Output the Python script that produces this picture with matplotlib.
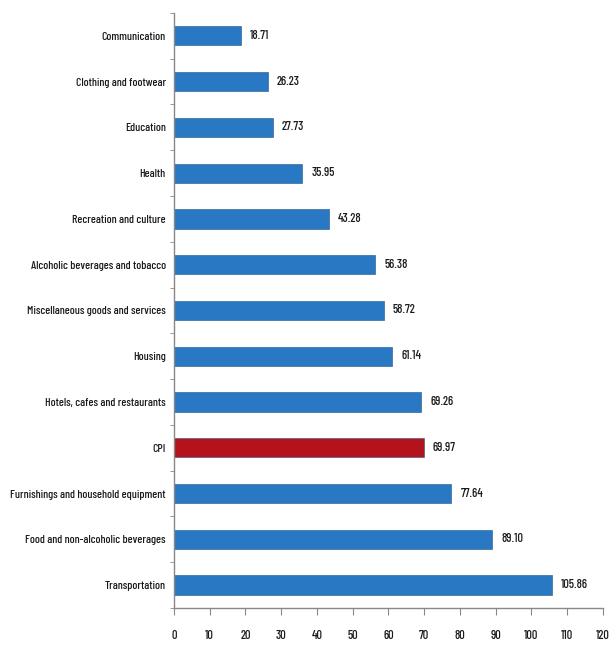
import matplotlib
matplotlib.use("Agg")
import matplotlib.pyplot as plt
from matplotlib import font_manager

categories = ["Transportation", "Food and non-alcoholic beverages",
              "Furnishings and household equipment", "CPI",
              "Hotels, cafes and restaurants", "Housing",
              "Miscellaneous goods and services", "Alcoholic beverages and tobacco",
              "Recreation and culture", "Health", "Education",
              "Clothing and footwear", "Communication"]
values = [105.86, 89.10, 77.64, 69.97, 69.26, 61.14, 58.72, 56.38,
          43.28, 35.95, 27.73, 26.23, 18.71]
value_labels = ["105.86", "89.10", "77.64", "69.97", "69.26", "61.14", "58.72",
                "56.38", "43.28", "35.95", "27.73", "26.23", "18.71"]
xticks = list(range(0, 121, 10))

names = {f.name for f in font_manager.fontManager.ttflist}
prefs = ["Barlow Condensed", "Archivo Narrow", "Asap Condensed", "Roboto Condensed"]
chosen = next((p for p in prefs if p in names), "DejaVu Sans")
plt.rcParams["font.family"] = [chosen, "DejaVu Sans"]
plt.rcParams["font.weight"] = "medium"

blue = "#2878c3"
red = "#b3141c"
colors = [red if c == "CPI" else blue for c in categories]
txt_color = "#1a1a1a"

fig = plt.figure(figsize=(6.13, 6.47), dpi=100)
renderer = fig.canvas.get_renderer()


def fit_size(s, target_px, base=10.0):
    t = fig.text(0, 0, s, fontsize=base)
    w = t.get_window_extent(renderer).width
    t.remove()
    return base * target_px / w


cat_fs = fit_size("Furnishings and household equipment", 156)
val_fs = fit_size("105.86", 27)

ax = fig.add_axes([0.2838, 0.0603, 0.6994, 0.9197])
y = list(range(len(categories)))
ax.barh(y, values, height=0.42, color=colors, edgecolor="#1d5587", linewidth=0.4)
for yi, v, lab in zip(y, values, value_labels):
    ax.annotate(lab, (v, yi), xytext=(6.5, 0), textcoords="offset points",
                va="center", ha="left", fontsize=val_fs, color=txt_color)

ax.set_xlim(0, 120)
ax.set_ylim(-0.5, len(categories) - 0.5)
ax.set_xticks(xticks)
ax.set_xticklabels([str(t) for t in xticks], fontsize=val_fs, color=txt_color)
ax.set_yticks(y)
ax.set_yticklabels(categories, fontsize=cat_fs, color=txt_color)
ax.set_yticks([i - 0.5 for i in range(len(categories) + 1)], minor=True)
ax.tick_params(axis="y", which="major", length=0, pad=6)
ax.tick_params(axis="y", which="minor", length=3, color="#888888", direction="out")
ax.tick_params(axis="x", length=5, color="#888888", direction="out", pad=11)
for s in ["top", "right"]:
    ax.spines[s].set_visible(False)
for s in ["left", "bottom"]:
    ax.spines[s].set_color("#888888")
    ax.spines[s].set_linewidth(1.0)

fig.savefig("out.png", dpi=100)
